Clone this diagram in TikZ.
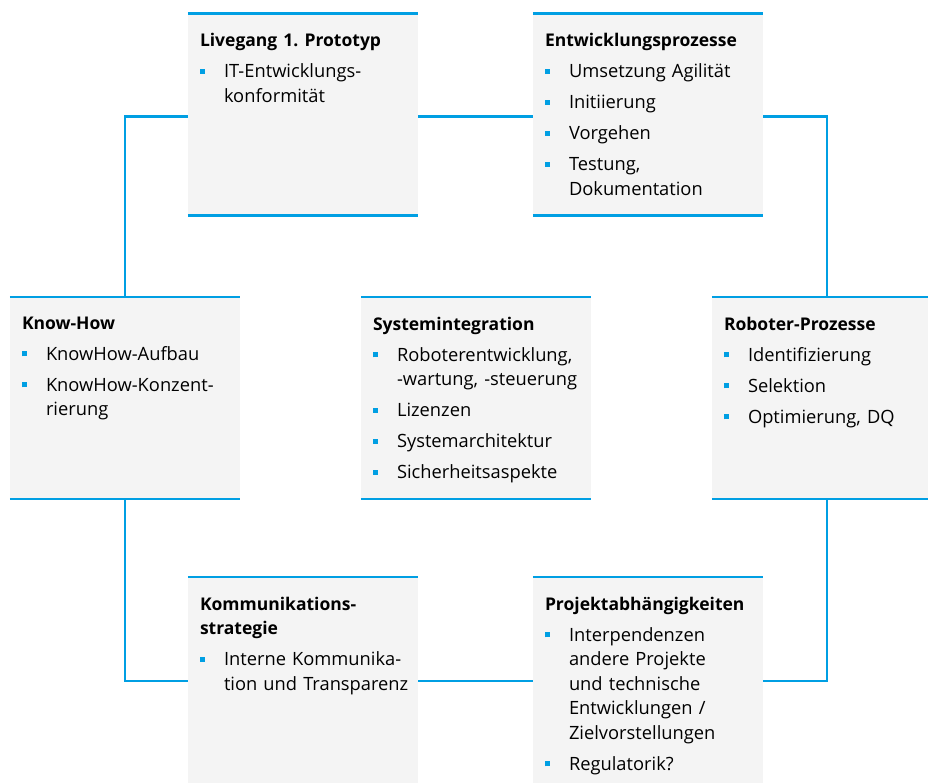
\documentclass[tikz,border=0pt]{standalone}
\usepackage{fontspec}
\setmainfont{Open Sans}
\usepackage{tikz}
\usetikzlibrary{positioning}
\definecolor{tblue}{HTML}{009FE3}
\definecolor{tgrey}{HTML}{F4F4F4}
\let\bltdepth\relax
\newcommand{\blt}[1]{\par\ifx\bltdepth\relax\else\prevdepth=\bltdepth\fi
  \global\let\bltdepth\relax\noindent
  \makebox[24pt][l]{\textcolor{tblue}{\rule[0.22em]{5pt}{5pt}}}%
  \parbox[t]{192pt}{\raggedright #1\par\xdef\bltdepth{\the\prevdepth}}}
\newcommand{\hd}[1]{\global\let\bltdepth\relax
  \noindent{\fontsize{17.5}{24.5}\selectfont\textbf{#1}}}

\begin{document}
\begin{tikzpicture}[x=1pt, y=-1pt,
    box/.style = {fill=tgrey, inner sep=0pt, minimum width=230pt, minimum height=202pt},
    txt/.style = {anchor=north west, inner sep=0pt, text width=218pt, align=left,
                  font=\fontsize{18.3}{24.5}\selectfont\setlength{\parskip}{6.5pt}},
    edge/.style = {draw=tblue, line width=2.5pt},
    conn/.style = {draw=tblue, line width=2.5pt}]
  \useasboundingbox (0,0) rectangle (928,783);
  \clip (0,0) rectangle (928,783);

  % boxes
  \node[box] (LP) at (303,114.5) {};
  \node[box] (EP) at (648,114.5) {};
  \node[box] (KH) at (125,398) {};
  \node[box] (SI) at (476,398) {};
  \node[box] (RP) at (827,398) {};
  \node[box, minimum height=230pt] (KS) at (303,692) {};
  \node[box, minimum height=230pt] (PA) at (648,692) {};

  \foreach \b in {LP,EP,KH,SI,RP,KS,PA}
    \draw[edge] (\b.north west) -- (\b.north east);
  \foreach \b in {LP,EP,KH,SI,RP}
    \draw[edge] (\b.south west) -- (\b.south east);

  % connectors
  \draw[conn] ([yshift=-2pt]LP.west) -| (KH.north);
  \draw[conn] ([yshift=-2pt]LP.east) -- ([yshift=-2pt]EP.west);
  \draw[conn] ([yshift=-2pt]EP.east) -| (RP.north);
  \draw[conn] (KH.south) |- ([yshift=11pt]KS.west);
  \draw[conn] ([yshift=11pt]KS.east) -- ([yshift=11pt]PA.west);
  \draw[conn] (RP.south) |- ([yshift=11pt]PA.east);

  % texts
  \node[txt] (LPt) at ([xshift=12pt, yshift=-20pt]LP.north west)
    {\hd{Livegang 1.\ Prototyp}
     \blt{IT-Entwicklungs-\\konformität}};
  \node[txt] (EPt) at ([xshift=12pt, yshift=-20pt]EP.north west)
    {\hd{Entwicklungsprozesse}
     \blt{Umsetzung Agilität}
     \blt{Initiierung}
     \blt{Vorgehen}
     \blt{Testung,\\Dokumentation}};
  \node[txt] (KHt) at ([xshift=12pt, yshift=-20pt]KH.north west)
    {\hd{Know-How}
     \blt{KnowHow-Aufbau}
     \blt{KnowHow-Konzent-\\rierung}};
  \node[txt] (SIt) at ([xshift=12pt, yshift=-20pt]SI.north west)
    {\hd{Systemintegration}
     \blt{Roboterentwicklung,\\-wartung, -steuerung}
     \blt{Lizenzen}
     \blt{Systemarchitektur}
     \blt{Sicherheitsaspekte}};
  \node[txt] (RPt) at ([xshift=12pt, yshift=-20pt]RP.north west)
    {\hd{Roboter-Prozesse}
     \blt{Identifizierung}
     \blt{Selektion}
     \blt{Optimierung, DQ}};
  \node[txt] (KSt) at ([xshift=12pt, yshift=-20pt]KS.north west)
    {\hd{Kommunikations-\newline strategie}
     \blt{Interne Kommunika-\\tion und Transparenz}};
  \node[txt] (PAt) at ([xshift=12pt, yshift=-20pt]PA.north west)
    {\hd{Projektabhängigkeiten}
     \blt{Interpendenzen\\andere Projekte\\und technische\\Entwicklungen /\\Zielvorstellungen}
     \blt{Regulatorik?}};
\end{tikzpicture}
\end{document}
